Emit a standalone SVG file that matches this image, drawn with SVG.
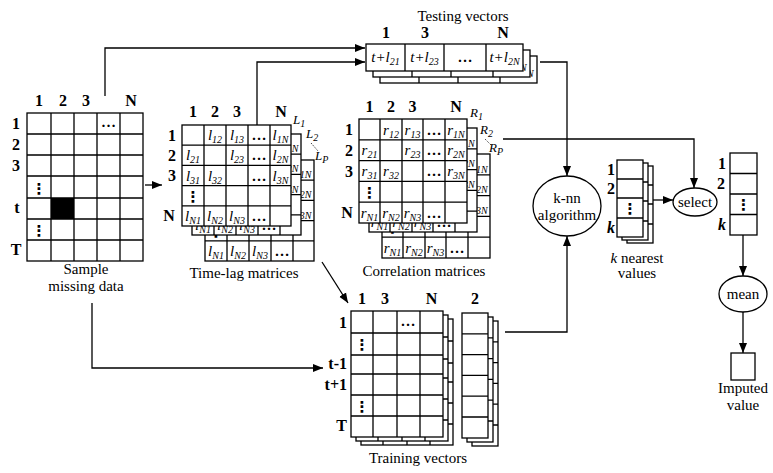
<svg xmlns="http://www.w3.org/2000/svg" xmlns:xlink="http://www.w3.org/1999/xlink" width="773" height="473" viewBox="0 0 773 473">
<style>
text{font-family:"Liberation Serif","DejaVu Serif",serif;fill:#000}
.g{fill:#fff;stroke:#000;stroke-width:1.3}
.ln{fill:none;stroke:#000;stroke-width:1.3}
.cn{fill:none;stroke:#000;stroke-width:1.3}
.h{font-size:16px;font-weight:bold;text-anchor:middle}
.hr{font-size:16px;font-weight:bold;text-anchor:end}
.l{font-size:15px;text-anchor:middle}
.c{font-size:15px;font-style:italic;text-anchor:middle}
.s{font-size:10px}
.d{font-size:15px;font-weight:bold;text-anchor:middle}
.v{font-family:"DejaVu Sans",sans-serif;font-size:15px;font-weight:bold;text-anchor:middle}
.lb{font-size:13px;font-style:italic}
.dot{fill:none;stroke:#000;stroke-width:1;stroke-dasharray:1,1.5}
</style>
<defs>
<marker id="a" viewBox="0 0 10 10" refX="10" refY="5" markerWidth="10" markerHeight="10" markerUnits="userSpaceOnUse" orient="auto"><path d="M0,1L10,5L0,9z" fill="#000"/></marker>
<g id="TL">
<rect class="g" x="0" y="0" width="109" height="101"/>
<path class="ln" d="M22,0V101M44,0V101M66,0V101M88,0V101M0,20.2H109M0,40.4H109M0,60.6H109M0,80.8H109"/>
<text class="c" x="33" y="15">l<tspan class="s" dy="3">12</tspan></text>
<text class="c" x="55" y="15">l<tspan class="s" dy="3">13</tspan></text>
<text class="d" x="77" y="15">…</text>
<text class="c" x="98.5" y="15">l<tspan class="s" dy="3">1N</tspan></text>
<text class="c" x="11" y="35.3">l<tspan class="s" dy="3">21</tspan></text>
<text class="c" x="55" y="35.3">l<tspan class="s" dy="3">23</tspan></text>
<text class="d" x="77" y="35.3">…</text>
<text class="c" x="98.5" y="35.3">l<tspan class="s" dy="3">2N</tspan></text>
<text class="c" x="11" y="55.5">l<tspan class="s" dy="3">31</tspan></text>
<text class="c" x="33" y="55.5">l<tspan class="s" dy="3">32</tspan></text>
<text class="d" x="77" y="55.5">…</text>
<text class="c" x="98.5" y="55.5">l<tspan class="s" dy="3">3N</tspan></text>
<text class="v" x="11" y="77">⋮</text>
<text class="c" x="11" y="96">l<tspan class="s" dy="3">N1</tspan></text>
<text class="c" x="33" y="96">l<tspan class="s" dy="3">N2</tspan></text>
<text class="c" x="55" y="96">l<tspan class="s" dy="3">N3</tspan></text>
<text class="d" x="77" y="96">…</text>
</g>
<g id="CR">
<rect class="g" x="0" y="0" width="108" height="104"/>
<path class="ln" d="M21,0V104M43,0V104M64,0V104M86,0V104M0,20.8H108M0,41.6H108M0,62.4H108M0,83.2H108"/>
<text class="c" x="32" y="15.5">r<tspan class="s" dy="3">12</tspan></text>
<text class="c" x="53.5" y="15.5">r<tspan class="s" dy="3">13</tspan></text>
<text class="d" x="75" y="15.5">…</text>
<text class="c" x="97" y="15.5">r<tspan class="s" dy="3">1N</tspan></text>
<text class="c" x="10.5" y="36.3">r<tspan class="s" dy="3">21</tspan></text>
<text class="c" x="53.5" y="36.3">r<tspan class="s" dy="3">23</tspan></text>
<text class="d" x="75" y="36.3">…</text>
<text class="c" x="97" y="36.3">r<tspan class="s" dy="3">2N</tspan></text>
<text class="c" x="10.5" y="57">r<tspan class="s" dy="3">31</tspan></text>
<text class="c" x="32" y="57">r<tspan class="s" dy="3">32</tspan></text>
<text class="d" x="75" y="57">…</text>
<text class="c" x="97" y="57">r<tspan class="s" dy="3">3N</tspan></text>
<text class="v" x="10.5" y="79">⋮</text>
<text class="c" x="10.5" y="98.5">r<tspan class="s" dy="3">N1</tspan></text>
<text class="c" x="32" y="98.5">r<tspan class="s" dy="3">N2</tspan></text>
<text class="c" x="53.5" y="98.5">r<tspan class="s" dy="3">N3</tspan></text>
<text class="d" x="75" y="98.5">…</text>
</g>
<g id="TV">
<rect class="g" x="0" y="0" width="157" height="27"/>
<path class="ln" d="M39,0V27M78,0V27M120,0V27"/>
<text class="c" x="19.5" y="18">t+l<tspan class="s" dy="3">21</tspan></text>
<text class="c" x="58.5" y="18">t+l<tspan class="s" dy="3">23</tspan></text>
<text class="d" x="99" y="18">…</text>
<text class="c" x="138.5" y="18">t+l<tspan class="s" dy="3">2N</tspan></text>
</g>
<g id="TR">
<rect class="g" x="0" y="0" width="92" height="126"/>
<path class="ln" d="M22,0V126M46,0V126M69,0V126M0,22H92M0,44H92M0,63H92M0,84H92M0,105H92"/>
</g>
<g id="V2">
<rect class="g" x="0" y="0" width="26" height="125"/>
<path class="ln" d="M0,20.8H26M0,41.6H26M0,62.4H26M0,83.2H26M0,104H26"/>
</g>
<g id="KS">
<rect class="g" x="0" y="0" width="26" height="77"/>
<path class="ln" d="M0,19H26M0,38H26M0,58H26"/>
</g>
</defs>

<g id="connectors">
<path class="cn" d="M105,96V48H365" marker-end="url(#a)"/>
<path class="cn" d="M257,125V62H365" marker-end="url(#a)"/>
<path class="cn" d="M145,185H162" marker-end="url(#a)"/>
<path class="cn" d="M92,303V368H323" marker-end="url(#a)"/>
<path class="cn" d="M322,262L348,303" marker-end="url(#a)"/>
<path class="cn" d="M540,62H567V176" marker-end="url(#a)"/>
<path class="cn" d="M503,139H694V188" marker-end="url(#a)"/>
<path class="cn" d="M505,332H567V236" marker-end="url(#a)"/>
<path class="cn" d="M653,200H673" marker-end="url(#a)"/>
<path class="cn" d="M743,235V276" marker-end="url(#a)"/>
<path class="cn" d="M743,312V353" marker-end="url(#a)"/>
</g>

<g id="sample">
<rect class="g" x="27" y="113" width="116" height="148"/>
<rect x="51" y="198" width="23" height="21" fill="#000"/>
<path class="ln" d="M51,113V261M74,113V261M97,113V261M120,113V261M27,134H143M27,155H143M27,176H143M27,198H143M27,219H143M27,240H143"/>
<text class="h" x="39" y="106">1</text>
<text class="h" x="63" y="106">2</text>
<text class="h" x="86" y="106">3</text>
<text class="h" x="131" y="106">N</text>
<text class="h" x="16" y="129">1</text>
<text class="h" x="16" y="150">2</text>
<text class="h" x="16" y="171">3</text>
<text class="h" x="17" y="213">t</text>
<text class="h" x="16" y="255">T</text>
<text class="v" x="39" y="194">⋮</text>
<text class="v" x="39" y="236">⋮</text>
<text class="d" x="108.5" y="127">…</text>
<text class="l" x="86" y="274">Sample</text>
<text class="l" x="86" y="291">missing data</text>
</g>

<g id="timelag">
<use xlink:href="#TL" x="205" y="160"/>
<use xlink:href="#TL" x="192" y="134"/>
<use xlink:href="#TL" x="182" y="125"/>
<text class="h" x="193" y="117">1</text>
<text class="h" x="215" y="117">2</text>
<text class="h" x="237" y="117">3</text>
<text class="h" x="281" y="117">N</text>
<text class="h" x="172" y="141">1</text>
<text class="h" x="172" y="161">2</text>
<text class="h" x="172" y="181">3</text>
<text class="h" x="169" y="221">N</text>
<text class="lb" x="293" y="124">L<tspan class="s" dy="3">1</tspan></text>
<text class="lb" x="306" y="138">L<tspan class="s" dy="3">2</tspan></text>
<text class="lb" x="315" y="160">L<tspan class="s" dy="3">P</tspan></text>
<path class="dot" d="M311,143L318,151"/>
<text class="l" x="244" y="278">Time-lag matrices</text>
</g>

<g id="correlation">
<use xlink:href="#CR" x="382" y="154"/>
<use xlink:href="#CR" x="369" y="128"/>
<use xlink:href="#CR" x="359" y="119"/>
<text class="h" x="369.5" y="112">1</text>
<text class="h" x="391" y="112">2</text>
<text class="h" x="412.5" y="112">3</text>
<text class="h" x="456" y="112">N</text>
<text class="h" x="349" y="135">1</text>
<text class="h" x="349" y="156">2</text>
<text class="h" x="349" y="177">3</text>
<text class="h" x="347" y="218">N</text>
<text class="lb" x="470" y="117">R<tspan class="s" dy="3">1</tspan></text>
<text class="lb" x="480" y="134">R<tspan class="s" dy="3">2</tspan></text>
<text class="lb" x="489" y="152">R<tspan class="s" dy="3">P</tspan></text>
<path class="dot" d="M485,139L491,145"/>
<text class="l" x="424" y="276">Correlation matrices</text>
</g>

<g id="testing">
<use xlink:href="#TV" x="380" y="56"/>
<use xlink:href="#TV" x="373" y="50"/>
<use xlink:href="#TV" x="366" y="44"/>
<text class="l" x="463" y="21">Testing vectors</text>
<text class="h" x="386" y="38">1</text>
<text class="h" x="425" y="38">3</text>
<text class="h" x="503" y="38">N</text>
</g>

<g id="training">
<use xlink:href="#TR" x="361" y="319"/>
<use xlink:href="#TR" x="356" y="315"/>
<use xlink:href="#TR" x="351" y="311"/>
<text class="h" x="362" y="304">1</text>
<text class="h" x="385" y="304">3</text>
<text class="h" x="431.5" y="304">N</text>
<text class="d" x="408" y="326">…</text>
<text class="v" x="362" y="350">⋮</text>
<text class="v" x="362" y="412">⋮</text>
<text class="hr" x="347" y="328">1</text>
<text class="hr" x="347" y="369">t-1</text>
<text class="hr" x="347" y="390">t+1</text>
<text class="hr" x="347" y="431">T</text>
<text class="l" x="418" y="463">Training vectors</text>
</g>

<g id="training2">
<use xlink:href="#V2" x="472" y="321"/>
<use xlink:href="#V2" x="467" y="317"/>
<use xlink:href="#V2" x="462" y="313"/>
<text class="h" x="475" y="304">2</text>
</g>

<g id="knn">
<ellipse class="g" cx="567" cy="206" rx="34" ry="30"/>
<text class="l" x="567" y="203">k-nn</text>
<text class="l" x="567" y="220">algorithm</text>
</g>

<g id="nearest">
<use xlink:href="#KS" x="627" y="166"/>
<use xlink:href="#KS" x="622" y="163"/>
<use xlink:href="#KS" x="617" y="160"/>
<text class="h" x="611" y="175">1</text>
<text class="h" x="611" y="194">2</text>
<text class="v" x="630" y="214">⋮</text>
<text class="h" x="611" y="233" font-style="italic">k</text>
<text class="l" x="637" y="263"><tspan font-style="italic">k</tspan> nearest</text>
<text class="l" x="637" y="278">values</text>
</g>

<g id="select">
<ellipse class="g" cx="695" cy="202" rx="22" ry="14"/>
<text class="l" x="695" y="207">select</text>
</g>

<g id="vector">
<rect class="g" x="730" y="153" width="27" height="82"/>
<path class="ln" d="M730,173.5H757M730,194H757M730,214.5H757"/>
<text class="h" x="722" y="169">1</text>
<text class="h" x="721" y="189">2</text>
<text class="v" x="743.5" y="210">⋮</text>
<text class="h" x="722" y="230" font-style="italic">k</text>
</g>

<g id="mean">
<ellipse class="g" cx="743" cy="294" rx="24" ry="18"/>
<text class="l" x="743" y="299">mean</text>
</g>

<g id="imputed">
<rect class="g" x="731" y="353" width="24" height="27"/>
<text class="l" x="743" y="393">Imputed</text>
<text class="l" x="743" y="410">value</text>
</g>
</svg>
